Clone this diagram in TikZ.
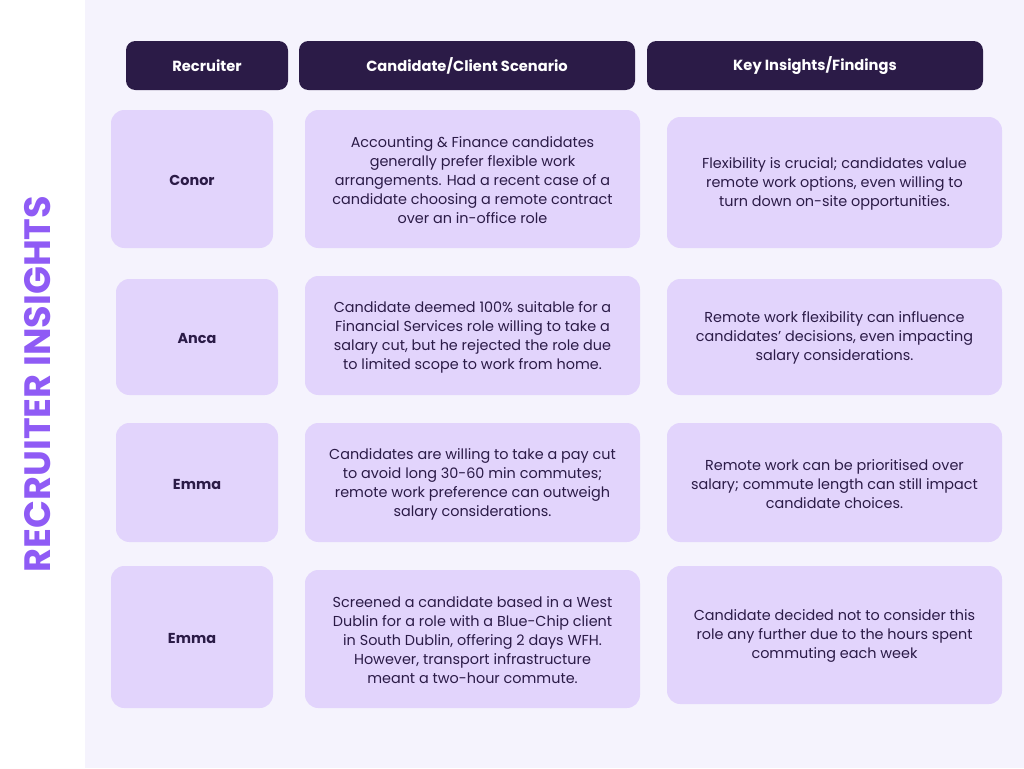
\documentclass[tikz,border=0pt]{standalone}
\usepackage{fontspec}
\setmainfont{Poppins}
\definecolor{hdrc}{HTML}{2B1B47}
\definecolor{cellc}{HTML}{E2D4FC}
\definecolor{bgc}{HTML}{F5F3FD}
\definecolor{txtc}{HTML}{2B1B47}
\definecolor{titc}{HTML}{8F5BF5}
\begin{document}
\begin{tikzpicture}[x=0.75pt,y=-0.75pt,
 hdr/.style={text=white,font=\fontsize{11}{12}\selectfont\bfseries},
 cell/.style={text=txtc,align=center,font=\fontsize{10.8}{14.3}\selectfont},
 nm/.style={text=txtc,font=\fontsize{10.8}{13}\selectfont\bfseries},
 hbox/.style={fill=hdrc,rounded corners=7pt},
 cbox/.style={fill=cellc,rounded corners=10pt}]
\useasboundingbox (0,0) rectangle (1024,768);
\fill[bgc] (85,0) rectangle (1024,768);
\node[rotate=90,text=titc,font=\fontsize{27.5}{30}\selectfont\bfseries] (title) at (38,384) {RECRUITER INSIGHTS};
\fill[hbox] (126,41) rectangle (288,90);
\node[hdr] (h1) at (207,65.5) {Recruiter};
\fill[hbox] (299,41) rectangle (635,90);
\node[hdr] (h2) at (467,65.5) {Candidate/Client Scenario};
\fill[hbox] (647,41) rectangle (983,90);
\node[hdr] (h3) at (815,65.5) {Key Insights/Findings};
% row1
\fill[cbox] (111,110) rectangle (273,248); \node[nm] (n1) at (192,180) {Conor};
\fill[cbox] (305,110) rectangle (640,248); \node[cell] (s1) at (472.5,180) {Accounting \& Finance candidates\\generally prefer flexible work\\arrangements. Had a recent case of a\\candidate choosing a remote contract\\over an in-office role};
\fill[cbox] (667,117) rectangle (1002,248); \node[cell] (k1) at (834.5,184) {Flexibility is crucial; candidates value\\remote work options, even willing to\\turn down on-site opportunities.};
% row2
\fill[cbox] (116,279) rectangle (278,395); \node[nm] (n2) at (197,338) {Anca};
\fill[cbox] (305,276) rectangle (640,395); \node[cell] (s2) at (472.5,337) {Candidate deemed 100\% suitable for a\\Financial Services role willing to take a\\salary cut, but he rejected the role due\\to limited scope to work from home.};
\fill[cbox] (667,279) rectangle (1002,395); \node[cell] (k2) at (834.5,338) {Remote work flexibility can influence\\candidates' decisions, even impacting\\salary considerations.};
% row3
\fill[cbox] (116,423) rectangle (278,542); \node[nm] (n3) at (197,484) {Emma};
\fill[cbox] (305,423) rectangle (640,542); \node[cell] (s3) at (472.5,484) {Candidates are willing to take a pay cut\\to avoid long 30-60 min commutes;\\remote work preference can outweigh\\salary considerations.};
\fill[cbox] (667,423) rectangle (1002,542); \node[cell] (k3) at (834.5,484) {Remote work can be prioritised over\\salary; commute length can still impact\\candidate choices.};
% row4
\fill[cbox] (111,566) rectangle (273,708); \node[nm] (n4) at (192,638) {Emma};
\fill[cbox] (305,570) rectangle (640,708); \node[cell] (s4) at (472.5,640) {Screened a candidate based in a West\\Dublin for a role with a Blue-Chip client\\in South Dublin, offering 2 days WFH.\\However, transport infrastructure\\meant a two-hour commute.};
\fill[cbox] (667,566) rectangle (1002,704); \node[cell] (k4) at (834.5,636) {Candidate decided not to consider this\\role any further due to the hours spent\\commuting each week};
\end{tikzpicture}
\end{document}
